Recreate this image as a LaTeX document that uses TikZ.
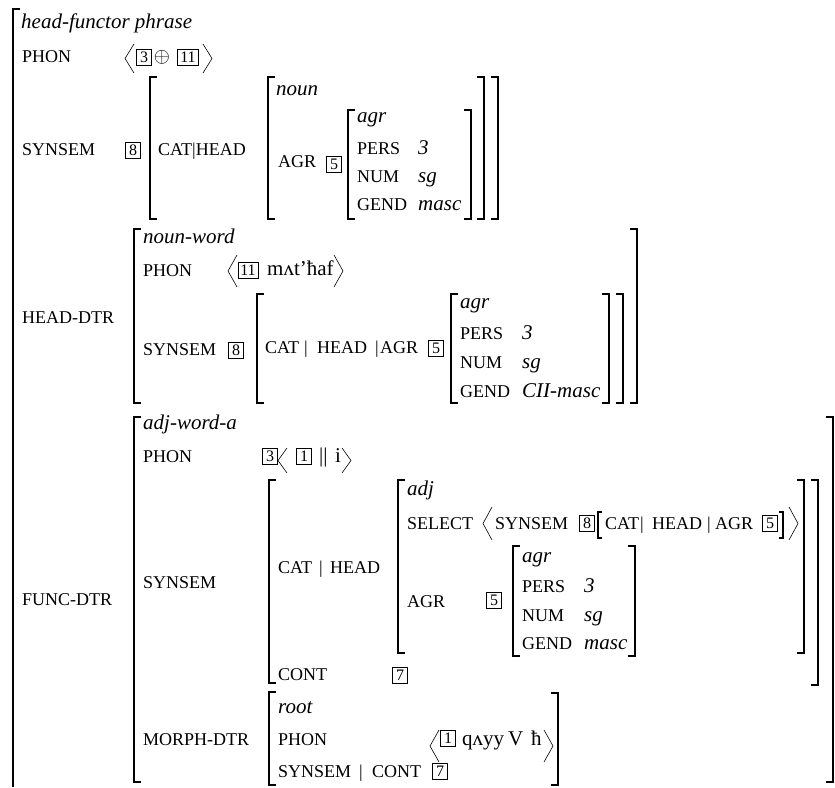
\documentclass[tikz,border=0pt]{standalone}
\usepackage{fontspec}
\setmainfont{Liberation Serif}

\begin{document}
\begin{tikzpicture}[x=1pt,y=-1pt,
    brk/.style={line width=1.2pt},
    ang/.style={line width=0.6pt},
    ft/.style={anchor=base west,inner sep=0pt,font=\fontsize{18}{18}\selectfont},
    ty/.style={anchor=base west,inner sep=0pt,font=\fontsize{21}{21}\selectfont\itshape},
    ph/.style={anchor=base west,inner sep=0pt,font=\fontsize{21}{21}\selectfont},
    tag/.style={draw,line width=0.6pt,inner xsep=2.5pt,inner ysep=1pt,minimum width=15pt,minimum height=16pt,font=\fontsize{16}{16}\selectfont}]
\useasboundingbox (0,0) rectangle (835,787);
\draw[brk] (20,9) -- (13,9) -- (13,787);
\foreach \x/\t/\b/\h in {
    150/77/219/7, 268/77/219/7, 348/110/219/7, 134/229/403/7, 257/294/403/7, 451/294/403/7,
    134/417/782/7, 269/480/683/7, 398/480/653/7, 513/546/656/7, 269/692/785/7, 598/512/538/4
}{
    \draw[brk] (\x+\h,\t) -- (\x,\t) -- (\x,\b) -- (\x+\h,\b);
}
\foreach \x/\t/\b/\h in {
    471/110/219/7, 484/77/219/7, 498/77/219/7, 609/294/403/7, 623/294/403/7, 637/229/403/7,
    635/546/656/7, 804/480/653/7, 818/480/685/7, 833/417/782/7, 558/693/785/7, 783/512/538/4
}{
    \draw[brk] (\x-\h,\t) -- (\x,\t) -- (\x,\b) -- (\x-\h,\b);
}
\foreach \x/\t/\b in {125/44/73, 228/255/287, 278/448/473, 483/507/540, 430/730/762}{
    \draw[ang] (\x+9,\t) -- (\x,\t/2+\b/2) -- (\x+9,\b);
}
\foreach \x/\t/\b in {212/44/73, 343/255/287, 351/448/473, 798/507/540, 553/730/762}{
    \draw[ang] (\x-9,\t) -- (\x,\t/2+\b/2) -- (\x-9,\b);
}
\foreach \x/\y/\t[count=\idx] in {
    22/62/PHON, 22/155/SYNSEM, 158/155/CAT|HEAD, 278/167/AGR, 357/154/PERS, 357/182/NUM, 357/210/GEND,
    22/323/HEAD-DTR, 143/276/PHON, 143/355/SYNSEM, 265/353/CAT, 304/353/|, 317/353/HEAD, 375/353/|, 380/353/AGR,
    460/339/PERS, 460/368/NUM, 460/397/GEND,
    22/605/FUNC-DTR, 143/462/PHON, 143/588/SYNSEM, 278/573/CAT, 319/573/|, 330/573/HEAD,
    407/529/SELECT, 495/529/SYNSEM, 605/529/CAT, 640/529/|, 652/529/HEAD, 707/529/|, 715/529/AGR, 407/607/AGR,
    522/592/PERS, 522/621/NUM, 522/649/GEND, 278/680/CONT,
    143/745/MORPH-DTR, 278/745/PHON, 278/777/SYNSEM, 359/777/|, 372/777/CONT
}{
    \node[ft] (f\idx) at (\x,\y) {\t};
}
\foreach \x/\y/\t[count=\idx] in {
    21/28.5/head-functor phrase, 276/95/noun, 357/122/agr, 418/154/3, 418/182/sg, 418/210/masc,
    143/243/noun-word, 460/308/agr, 522/339/3, 522/368/sg, 522/397/CII-masc,
    143/429/adj-word-a, 407/495/adj, 522/562/agr, 584/592/3, 584/621/sg, 584/649/masc,
    278/713/root
}{
    \node[ty] (v\idx) at (\x,\y) {\t};
}
\foreach \x/\y/\t[count=\idx] in {
    267/275/mʌt’ħaf, 319/462/||, 335/462/i, 462/745/qʌyy, 508/745/V, 531/745/ħ
}{
    \node[ph] (p\idx) at (\x,\y) {\t};
}
\foreach \x/\y/\t[count=\idx] in {
    144/57/3, 188/57/11, 133/150/8, 334/164/5, 248/270/11, 236/350/8, 436/348/5,
    270/456/3, 304/456/1, 587/523/8, 770/523/5, 494/600/5, 400/675/7, 448/738/1, 440/771/7
}{
    \node[tag] (t\idx) at (\x,\y) {\t};
}
\node[font=\fontsize{20}{20}\selectfont,inner sep=0pt] (plus) at (162,57) {$\oplus$};
\end{tikzpicture}
\end{document}
